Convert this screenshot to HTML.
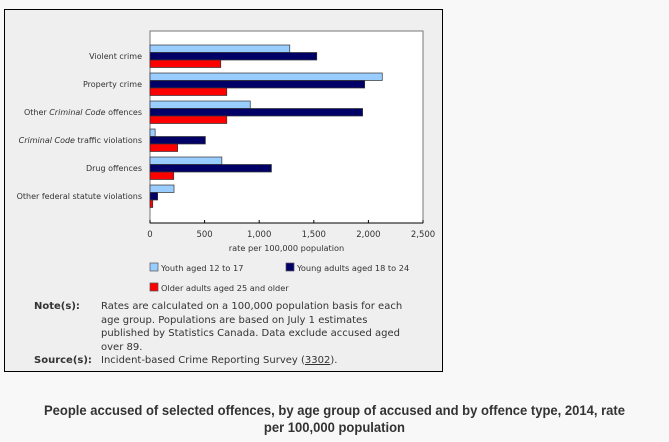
<!DOCTYPE html>
<html><head><meta charset="utf-8">
<style>
body{margin:0;width:669px;height:442px;background:#f8f8f8;font-family:"DejaVu Sans","Liberation Sans",sans-serif;overflow:hidden;position:relative}
#panel{position:absolute;left:4px;top:9px;width:437px;height:361px;border:1px solid #000;background:#efefef}
.note{position:absolute;font-size:10px;color:#333;line-height:13.5px}
#title{position:absolute;left:0;width:669px;top:402px;text-align:center;font-family:"Liberation Sans",sans-serif;font-size:14px;font-weight:bold;color:#333;line-height:17px;transform:scaleX(0.93);transform-origin:334px 0}
</style></head><body>
<div id="panel"></div>
<svg id="chart" width="669" height="442" style="position:absolute;left:0;top:0"></svg>
<div class="note" style="left:34px;top:300px;font-weight:bold">Note(s):</div>
<div class="note" style="left:101px;top:300px;width:340px">Rates are calculated on a 100,000 population basis for each<br>age group. Populations are based on July 1 estimates<br>published by Statistics Canada. Data exclude accused aged<br>over 89.</div>
<div class="note" style="left:34px;top:354px;font-weight:bold">Source(s):</div>
<div class="note" style="left:101px;top:354px">Incident-based Crime Reporting Survey (<span style="text-decoration:underline">3302</span>).</div>
<div id="title">People accused of selected offences, by age group of accused and by offence type, 2014, rate<br>per 100,000 population</div>
<script>
const categories=["Violent crime","Property crime","Other |Criminal Code| offences","|Criminal Code| traffic violations","Drug offences","Other federal statute violations"];
const youth=[1280,2127,918,47,658,220];
const youngAdults=[1527,1966,1947,507,1112,70];
const olderAdults=[648,703,703,253,217,25];
const ticks=[0,500,1000,1500,2000,2500];
const tickLabels=["0","500","1,000","1,500","2,000","2,500"];
const seriesNames=["Youth aged 12 to 17","Young adults aged 18 to 24","Older adults aged 25 and older"];
const colors=["#99ccff","#000066","#ff0000"];
const svg=document.getElementById('chart');
const NS="http://www.w3.org/2000/svg";
const L=150,R=423,T=31,B=223,MAX=2500;
const x=v=>L+(v/MAX)*(R-L);
const y0=i=>45+i*28;
function mk(tag,a,parent){const e=document.createElementNS(NS,tag);for(const k in a)e.setAttribute(k,a[k]);(parent||svg).appendChild(e);return e;}
const bg=mk('rect',{x:L,y:T,width:R-L,height:B-T,fill:'#fff',stroke:'#777','stroke-width':1});


ticks.forEach((t,i)=>{
  const ln=mk('line',{x1:x(t),x2:x(t),y1:B,y2:B-3,stroke:'#000'});
  
  
  const tx=mk('text',{x:x(t),y:237,'font-size':8.5,'text-anchor':'middle',fill:'#333'});
  tx.textContent=tickLabels[i];
  
  
});
const axl=mk('line',{x1:L,x2:R,y1:B,y2:B,stroke:'#000'});


const at=mk('text',{x:(L+R)/2,y:251,'font-size':8.2,'text-anchor':'middle',fill:'#333'});
at.textContent='rate per 100,000 population';


const series=[youth,youngAdults,olderAdults];
categories.forEach((c,i)=>{
  series.forEach((s,j)=>{
    const r=mk('rect',{x:L,y:y0(i)+j*7.5,width:x(s[i])-L,height:7.5,fill:colors[j],stroke:'#333','stroke-width':0.7});
    
    
  });
  const t=mk('text',{x:142,y:y0(i)+14,'font-size':8,'text-anchor':'end',fill:'#333'});
  c.split('|').forEach((part,k)=>{
    if(!part)return;
    const sp=mk('tspan',{},t);
    if(k%2===1)sp.setAttribute('font-style','italic');
    sp.textContent=part;
  });
  
  
});
const lp=[[150,263],[286,263],[150,283]];
seriesNames.forEach((n,j)=>{
  const r=mk('rect',{x:lp[j][0],y:lp[j][1],width:8,height:8,fill:colors[j],stroke:'#555','stroke-width':0.7});
  
  
  const t=mk('text',{x:lp[j][0]+11,y:lp[j][1]+8,'font-size':8.2,fill:'#333'});
  t.textContent=n;
  
  
});
</script>
</body></html>
